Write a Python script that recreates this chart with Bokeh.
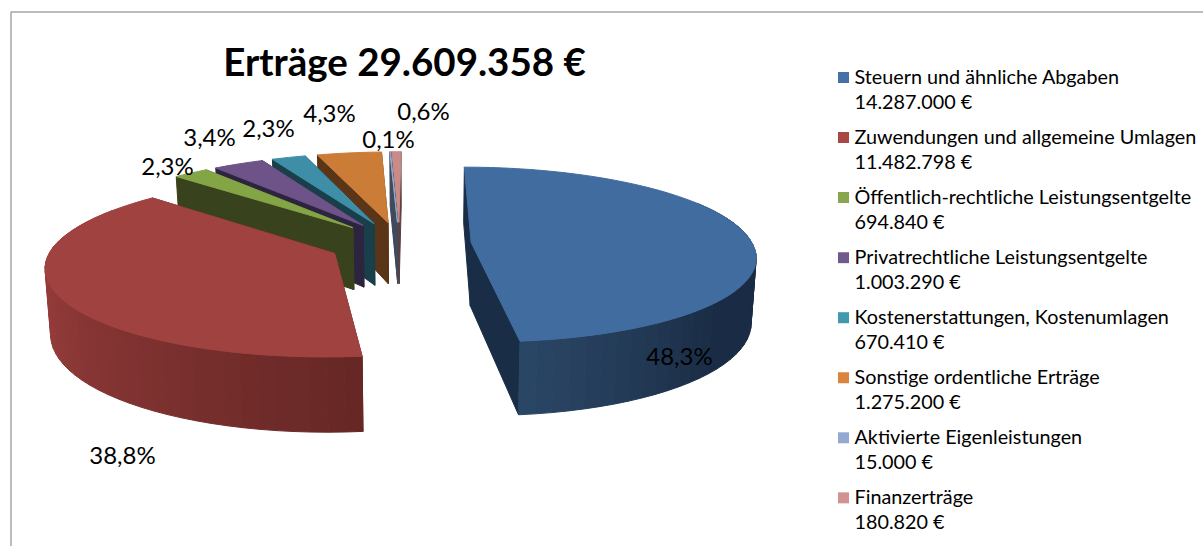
import math
from bokeh.plotting import figure
from bokeh.models import ColumnDataSource, Range1d
from bokeh.core.properties import value
from bokeh.embed import file_html
from bokeh.resources import INLINE

# ---- data ----
title_text = "Erträge 29.609.358 €"
categories = ["Steuern und ähnliche Abgaben", "Zuwendungen und allgemeine Umlagen",
              "Öffentlich-rechtliche Leistungsentgelte", "Privatrechtliche Leistungsentgelte",
              "Kostenerstattungen, Kostenumlagen", "Sonstige ordentliche Erträge",
              "Aktivierte Eigenleistungen", "Finanzerträge"]
amounts = [14287000, 11482798, 694840, 1003290, 670410, 1275200, 15000, 180820]
amount_labels = ["14.287.000 €", "11.482.798 €", "694.840 €", "1.003.290 €",
                 "670.410 €", "1.275.200 €", "15.000 €", "180.820 €"]

# ---- style ----
top_colors = ["#416c9f", "#a04240", "#84a546", "#6d5388", "#3d8ea6", "#cb7d37", "#93a9cf", "#c98a88"]
legend_colors = ["#4472a8", "#aa4643", "#89a54e", "#71588f", "#4198af", "#db843d", "#93a9cf", "#d19392"]
wall_colors = ["#1a2d47", "#652725", "#38431e", "#2d2540", "#193f4a", "#5a3517", "#3f4b5c", "#5c4040"]
outer_near = {0: ((130, "#1a2c45"), (174, "#2b4766")), 1: ((174, "#662725"), (275, "#a04140"))}
label_pos = [(679, 355), (122, 454), (167, 165), (209, 136), (268, 127), (329, 112), (388, 138), (423, 110)]

W, H = 1203, 546
VX, CY = 416, 243      # perspective centre on the page
A, B = 281, 86         # radius scale
K = 0.14               # perspective strength
DEPTH, SHRINK = 63.5, 0.985
EXPLODE, U0 = 0.255, -0.06
SHEAR = 4.5


def project(u, v, bottom=False):
    w = 1 + K * v
    sh = SHEAR * max(0.0, -v)
    if bottom:
        return VX + sh + A * SHRINK * u / w, CY + (DEPTH - B * v) / w
    return VX + sh + A * u / w, CY - B * v / w


def hex2rgb(h):
    return tuple(int(h[i:i + 2], 16) for i in (1, 3, 5))


def mix(c1, c2, t):
    a, b = hex2rgb(c1), hex2rgb(c2)
    return "#%02x%02x%02x" % tuple(round(a[i] + (b[i] - a[i]) * t) for i in range(3))


total = sum(amounts)
spans, acc = [], 0.0
for val in amounts:
    spans.append((acc, acc + 360.0 * val / total))
    acc = spans[-1][1]

xs, ys, cols = [], [], []


def add(points, color):
    xs.append([q[0] for q in points])
    ys.append([q[1] for q in points])
    cols.append(color)


for idx in [7, 6, 5, 4, 3, 2, 1, 0]:
    t0, t1 = spans[idx]
    mid = math.radians((t0 + t1) / 2)
    ou = U0 + EXPLODE * math.sin(mid)
    ov = EXPLODE * math.cos(mid)
    n = max(2, int((t1 - t0) / 3.0))
    angs = [t0 + (t1 - t0) * j / n for j in range(n + 1)]
    rim = [(ou + math.sin(math.radians(a)), ov + math.cos(math.radians(a))) for a in angs]
    # radial walls
    for q in (rim[0], rim[-1]):
        add([project(ou, ov), project(*q), project(*q, True), project(ou, ov, True)], wall_colors[idx])
    # outer wall: painted far to near; the far part stays hidden below the top face
    order = sorted(range(n), key=lambda j: -math.cos(math.radians((angs[j] + angs[j + 1]) / 2)))
    for j in order:
        a = (angs[j] + angs[j + 1]) / 2
        if math.cos(math.radians(a)) < 0.5:
            color = wall_colors[idx]
            if idx in outer_near:
                (a0, c0), (a1, c1) = outer_near[idx]
                t = min(1, max(0, (a - a0) / (a1 - a0)))
                color = mix(c0, c1, t)
            add([project(*rim[j]), project(*rim[j + 1]), project(*rim[j + 1], True), project(*rim[j], True)], color)
    add([project(ou, ov)] + [project(*q) for q in rim], top_colors[idx])

p = figure(width=W, height=H, output_backend="svg", toolbar_location=None,
           x_range=Range1d(0, W), y_range=Range1d(H, 0),
           x_axis_type=None, y_axis_type=None, min_border=0,
           outline_line_color=None, background_fill_color="white", border_fill_color="white")
p.grid.visible = False

# chart frame
p.line([10.5, 10.5, W], [H, 11.5, 11.5], line_color="#a6a6a6", line_width=1.5)

src = ColumnDataSource(dict(xs=xs, ys=ys, color=cols))
p.patches("xs", "ys", source=src, fill_color="color", line_color="color", line_width=1)

# title
p.text([404], [60], text=[title_text], text_font=value("Lato"), text_font_style="bold",
       text_font_size="38.5px", text_align="center", text_baseline="middle", text_color="#000000")

# percent labels
pct = [("%.1f%%" % (100 * v / total)).replace(".", ",") for v in amounts]
p.text([q[0] for q in label_pos], [q[1] for q in label_pos], text=pct, text_font=value("Lato"),
       text_font_size="24px", text_align="center", text_baseline="middle", text_color="#000000")

# legend
rows = list(range(len(categories)))
sw_y = [77 + 60.05 * i for i in rows]
p.rect([843] * len(rows), sw_y, width=11, height=11, fill_color=legend_colors, line_color=None)
p.text([854] * len(rows), [y - 2 for y in sw_y], text=categories, text_font=value("Lato"), text_font_size="19.8px",
       text_baseline="middle", text_color="#000000")
p.text([854] * len(rows), [y + 23.5 for y in sw_y], text=amount_labels, text_font=value("Lato"),
       text_font_size="19.8px", text_baseline="middle", text_color="#000000")

open("out.html", "w").write(file_html(p, INLINE))
